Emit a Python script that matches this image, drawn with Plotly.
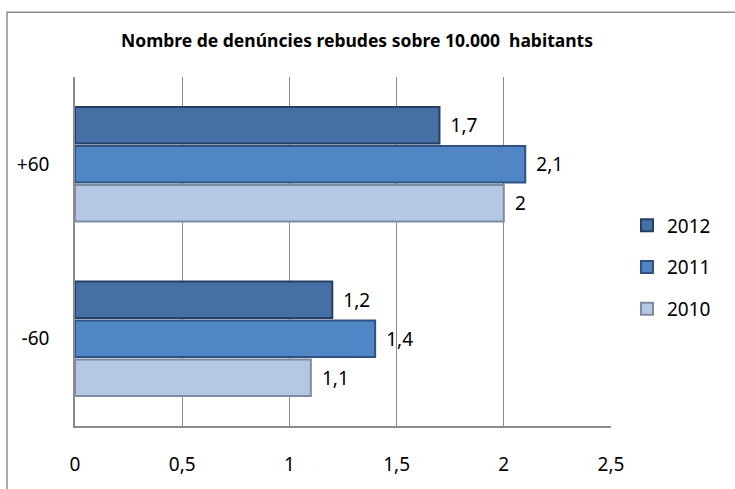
import plotly.graph_objects as go

categories = ["-60", "+60"]
series_names = ["2010", "2011", "2012"]
values_2010 = [1.1, 2.0]
values_2011 = [1.4, 2.1]
values_2012 = [1.2, 1.7]
x_ticks = [0, 0.5, 1, 1.5, 2, 2.5]
title_text = "Nombre de denúncies rebudes sobre 10.000  habitants"

series_values = [values_2010, values_2011, values_2012]
legend_ranks = [3, 2, 1]
fills = ["#B6C7E4", "#5186C6", "#4570A6"]
edges = ["#7D8BA3", "#2F5282", "#263F63"]

FONT = "Noto Sans"
FS = 19

# target window pixels of plot area
PX0, PX1, PY0, PY1 = 75, 611, 77, 438
W, H = 735, 489
L, T = PX0, PY0
R, B = W - PX1, H - PY1
PW, PH = PX1 - PX0, PY1 - PY0


def fmt(v):
    s = ("%g" % v).replace(".", ",")
    return "\u00a0\u2009" + s


fig = go.Figure()
for name, vals, rk, fc, ec in zip(series_names, series_values, legend_ranks, fills, edges):
    fig.add_trace(go.Bar(
        y=categories, x=vals, name=name, orientation="h", legendgroup=name,
        legendrank=rk,
        marker=dict(color=fc, line=dict(color=ec, width=2)),
        text=[fmt(v) for v in vals],
        textposition="outside",
        textfont=dict(family=FONT, size=FS, color="#000000"),
        cliponaxis=False,
    ))

fig.update_layout(
    width=W, height=H,
    paper_bgcolor="white", plot_bgcolor="white",
    margin=dict(l=L, r=R, t=T, b=B),
    separators=",.",
    barmode="group", bargap=0.33, bargroupgap=0.06,
    font=dict(family=FONT, size=FS, color="#000000"),
    title=dict(text="<b>" + title_text + "</b>", x=357 / W, xanchor="center",
               y=1 - 41 / H, yanchor="middle",
               font=dict(family=FONT, size=17.5, color="#000000")),
    legend=dict(traceorder="grouped", x=1 + (627 - PX1) / PW, xanchor="left",
                y=(PY1 - 274) / PH, yanchor="middle",
                font=dict(family=FONT, size=FS), itemwidth=30, tracegroupgap=14,
                bgcolor="rgba(0,0,0,0)"),
    xaxis=dict(range=[0, 2.5], tickvals=x_ticks, showgrid=True, gridcolor="#8C8C8C",
               gridwidth=1, showline=True, linecolor="#8C8C8C", linewidth=1.5,
               zeroline=False, ticks="", ticklabelstandoff=20,
               tickfont=dict(family=FONT, size=FS)),
    yaxis=dict(categoryorder="array", categoryarray=categories, showline=True,
               linecolor="#8C8C8C", linewidth=1.5, showgrid=False, ticks="",
               ticklabelstandoff=20, tickfont=dict(family=FONT, size=FS)),
    shapes=[dict(type="rect", xref="paper", yref="paper",
                 x0=(7 - PX0) / PW, x1=(760 - PX0) / PW,
                 y0=(PY1 - 520) / PH, y1=(PY1 - 10) / PH,
                 line=dict(color="#8C8C8C", width=1.5), layer="below")],
)

fig.write_html(
    "out.html",
    config={"displayModeBar": False},
    post_script="document.body.style.margin='0';document.body.style.overflow='hidden';",
)
